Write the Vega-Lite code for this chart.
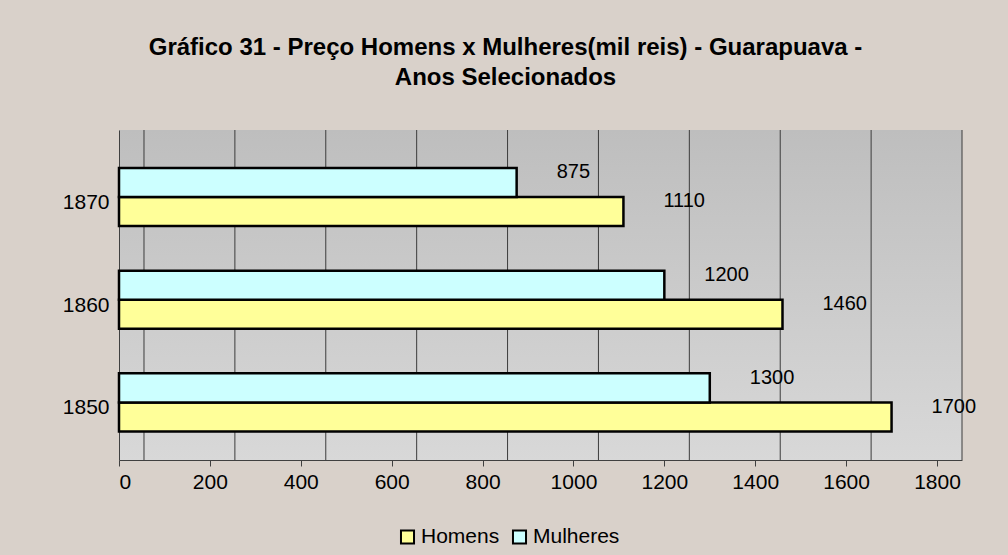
{
  "$schema": "https://vega.github.io/schema/vega-lite/v6.json",
  "width": 843,
  "height": 330,
  "autosize": {"type": "none"},
  "padding": {"left": 119, "top": 130, "right": 46, "bottom": 95},
  "background": "#D9D1CA",
  "title": {
    "text": ["Gráfico 31 - Preço Homens x Mulheres(mil reis) - Guarapuava -", "Anos Selecionados"],
    "font": "Liberation Sans",
    "fontSize": 24,
    "fontWeight": "bold",
    "color": "#000000",
    "anchor": "middle",
    "dx": -35,
    "offset": 40,
    "lineHeight": 30
  },
  "config": {
    "font": "Liberation Sans",
    "view": {
      "stroke": null,
      "fill": {"gradient": "linear", "x1": 0, "y1": 0, "x2": 0, "y2": 1, "stops": [{"offset": 0, "color": "#BEBEBE"}, {"offset": 1, "color": "#D8D8D8"}]}
    }
  },
  "data": {
    "values": [
      {"ano": "1850", "sexo": "Homens", "preco": 1700},
      {"ano": "1850", "sexo": "Mulheres", "preco": 1300},
      {"ano": "1860", "sexo": "Homens", "preco": 1460},
      {"ano": "1860", "sexo": "Mulheres", "preco": 1200},
      {"ano": "1870", "sexo": "Homens", "preco": 1110},
      {"ano": "1870", "sexo": "Mulheres", "preco": 875}
    ]
  },
  "resolve": {"scale": {"x": "independent"}, "axis": {"x": "independent"}},
  "layer": [
    {
      "data": {"values": [{"v": 0}, {"v": 200}, {"v": 400}, {"v": 600}, {"v": 800}, {"v": 1000}, {"v": 1200}, {"v": 1400}, {"v": 1600}, {"v": 1800}]},
      "mark": {"type": "rule", "color": "#3C3C3C", "strokeWidth": 1},
      "encoding": {
        "x": {"field": "v", "type": "quantitative", "scale": {"domain": [-55, 1800], "nice": false, "zero": false}, "axis": null}
      }
    },
    {
      "encoding": {
        "y": {
          "field": "ano", "type": "nominal", "sort": "descending",
          "scale": {"paddingInner": 0.4353, "paddingOuter": 0.324, "align": 0.57},
          "axis": {"title": null, "labelFontSize": 21, "labelColor": "#000000", "labelPadding": 10, "labelOffset": 6, "ticks": false, "domainColor": "#404040"}
        },
        "yOffset": {"field": "sexo", "type": "nominal", "scale": {"domain": ["Mulheres", "Homens"], "paddingInner": 0}},
        "x": {
          "field": "preco", "type": "quantitative",
          "scale": {"domain": [0, 1855], "nice": false},
          "axis": {"title": null, "values": [0, 200, 400, 600, 800, 1000, 1200, 1400, 1600, 1800], "format": "d", "labelFontSize": 21, "labelColor": "#000000", "labelPadding": 5, "tickSize": 6, "grid": false, "domainColor": "#404040", "tickColor": "#404040"}
        }
      },
      "layer": [
        {
          "mark": {"type": "bar", "stroke": "#000000", "strokeWidth": 2.5},
          "encoding": {
            "color": {
              "field": "sexo", "type": "nominal",
              "scale": {"domain": ["Homens", "Mulheres"], "range": ["#FFFF99", "#CCFFFF"]},
              "legend": {
                "title": null, "orient": "none", "direction": "horizontal",
                "legendX": 278, "legendY": 396,
                "symbolType": "square", "symbolSize": 170, "symbolStrokeColor": "#000000", "symbolStrokeWidth": 2,
                "labelFontSize": 21, "labelColor": "#000000", "columnPadding": 8, "labelOffset": 3
              }
            }
          }
        },
        {
          "mark": {"type": "text", "align": "left", "dx": 40, "dy": -10, "fontSize": 20, "color": "#000000"},
          "encoding": {"text": {"field": "preco", "type": "quantitative", "format": "d"}}
        }
      ]
    }
  ]
}
